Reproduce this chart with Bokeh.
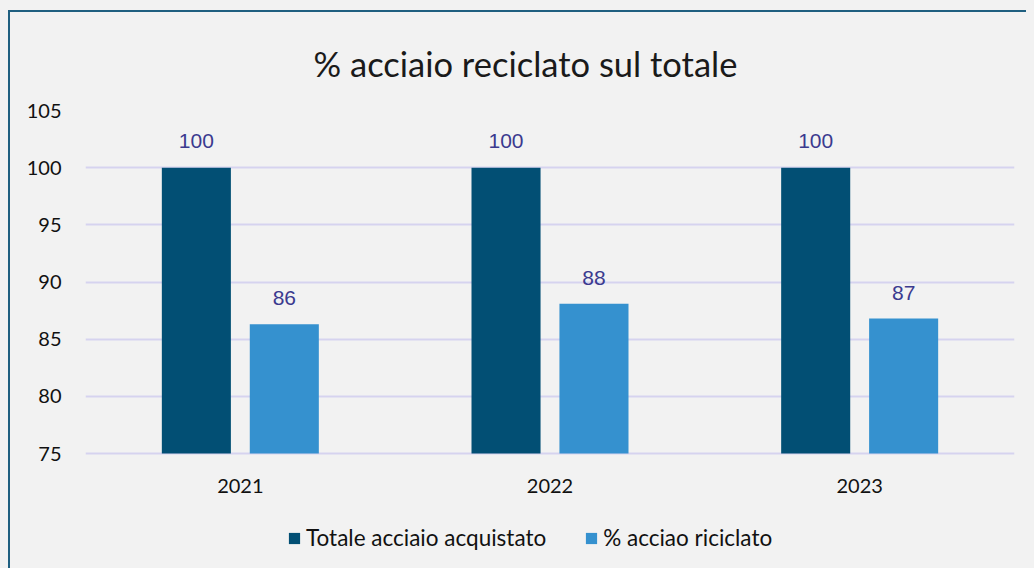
from bokeh.plotting import figure
from bokeh.models import ColumnDataSource, Range1d, FactorRange, Legend, LegendItem
from bokeh.transform import dodge
from bokeh.core.properties import value
from bokeh.embed import file_html
from bokeh.resources import INLINE

years = ["2021", "2022", "2023"]
totale = [100, 100, 100]
riciclato = [86.3, 88.1, 86.8]
totale_labels = ["100", "100", "100"]
riciclato_labels = ["86", "88", "87"]
y_ticks = [75, 80, 85, 90, 95, 100, 105]
base = [75, 75, 75]

src = ColumnDataSource(dict(years=years, totale=totale, riciclato=riciclato,
                            tl=totale_labels, rl=riciclato_labels, base=base))

FONT = "Lato"
H = 548
TOP = 98
FRAME_PX = 343  # pixel height of the 75..105 band
y_lo = 105 - 30 * (H - TOP) / FRAME_PX  # frame extends below 75 to hold year labels and legend

p = figure(x_range=FactorRange(*years, range_padding=0), y_range=Range1d(y_lo, 105),
           width=1016, height=H, output_backend="svg", toolbar_location=None,
           min_border_left=75, min_border_right=12, min_border_top=TOP, min_border_bottom=0)
p.background_fill_color = "#f2f2f2"
p.border_fill_color = "#f2f2f2"
p.outline_line_color = None

p.title.text = "% acciaio reciclato sul totale"
p.title.text_font = FONT
p.title.text_font_size = "34.5px"
p.title.text_font_style = "normal"
p.title.text_color = "#1a1a1a"
p.title.align = "left"
p.title.offset = 228
p.title.standoff = 54

r1 = p.vbar(x=dodge("years", -0.142, range=p.x_range), top="totale", bottom="base", width=0.223,
            source=src, fill_color="#024f74", line_color=None)
r2 = p.vbar(x=dodge("years", 0.142, range=p.x_range), top="riciclato", bottom="base", width=0.223,
            source=src, fill_color="#3591cf", line_color=None)

p.text(x=dodge("years", -0.142, range=p.x_range), y="totale", text="tl", source=src,
       text_align="center", text_baseline="middle", y_offset=-27,
       text_font=value("Liberation Sans"), text_font_size="21px", text_color="#3b3a8f")
p.text(x=dodge("years", 0.142, range=p.x_range), y="riciclato", text="rl", source=src,
       text_align="center", text_baseline="middle", y_offset=-26,
       text_font=value("Liberation Sans"), text_font_size="21px", text_color="#3b3a8f")

# category labels under the baseline
p.text(x="years", y="base", text="years", source=src, text_align="center",
       text_baseline="middle", y_offset=32, text_font=value(FONT), text_font_size="20px",
       text_color="#111111")

p.xaxis.visible = False
p.xgrid.grid_line_color = None
p.ygrid.grid_line_color = "#d6d3ef"
p.ygrid.grid_line_width = 2
p.yaxis.ticker = y_ticks
p.ygrid.ticker = y_ticks
ax = p.yaxis
ax.axis_line_color = None
ax.major_tick_line_color = None
ax.minor_tick_line_color = None
ax.major_label_text_font = FONT
ax.major_label_text_font_size = "20px"
ax.major_label_text_color = "#111111"
ax.major_label_standoff = 18

legend = Legend(items=[LegendItem(label="Totale acciaio acquistato", renderers=[r1]),
                       LegendItem(label="% acciao riciclato", renderers=[r2])],
                orientation="horizontal", location=(202, 9),
                label_text_font=FONT, label_text_font_size="22.5px", label_text_color="#111111",
                glyph_width=14, glyph_height=14, label_standoff=5, spacing=38,
                background_fill_alpha=0, border_line_color=None, padding=0, margin=0)
p.add_layout(legend)

css = ("<style>html,body{background:#f2f2f2 !important;}"
       "body{margin:10px 8px 8px 8px !important;border-left:2px solid #1f5f80;"
       "border-top:2px solid #1f5f80;}</style>")
html = file_html(p, INLINE)
html = html.replace("</head>", css + "</head>", 1)
open("out.html", "w").write(html)
